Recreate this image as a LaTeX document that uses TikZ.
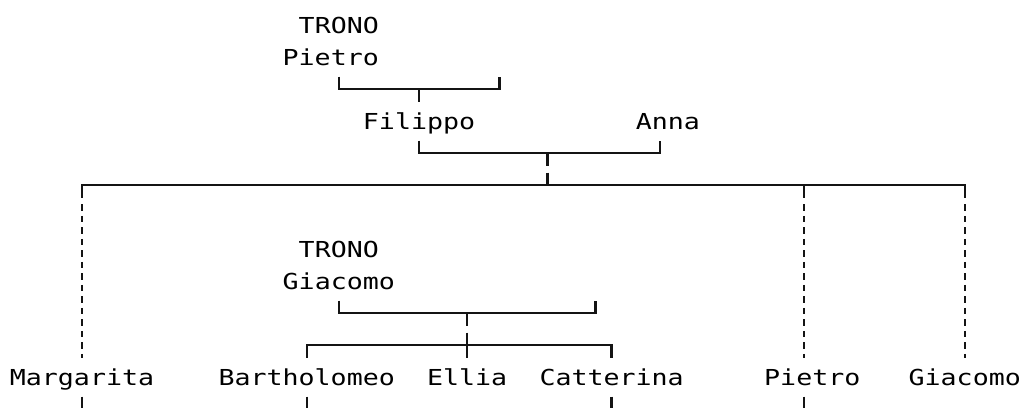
\documentclass[tikz,border=0pt]{standalone}
\usepackage{fontspec}
\newfontfamily\monofont[FakeStretch=1.21]{DejaVu Sans Mono}
\tikzset{
  person/.style={font=\monofont\fontsize{22}{26}\selectfont, inner sep=0pt, anchor=base, text=black},
  link/.style={line width=2.4pt, line cap=butt, line join=miter, draw=black!92},
  gapped/.style={link, dash pattern=on 12.5pt off 7pt on 12.5pt off 0pt},
  broken/.style={link, dash pattern=on 6.5pt off 5pt},
}
\begin{document}
\begin{tikzpicture}[x=16.05pt, y=-32pt]
\useasboundingbox (-1.109,-0.7875) rectangle (62.754,11.9625);
% names (x = column, y = row)
\node[person] (tronoA)      at (20,0.25)   {TRONO};
\node[person] (pietroA)     at (19.5,1.25) {Pietro};
\node[person] (filippo)     at (25,3.25)   {Filippo};
\node[person] (anna)        at (40.5,3.25) {Anna};
\node[person] (tronoB)      at (20,7.25)   {TRONO};
\node[person] (giacomoA)    at (20,8.25)   {Giacomo};
\node[person] (margarita)   at (4,11.25)   {Margarita};
\node[person] (bartholomeo) at (18,11.25)  {Bartholomeo};
\node[person] (ellia)       at (28,11.25)  {Ellia};
\node[person] (catterina)   at (37,11.25)  {Catterina};
\node[person] (pietroB)     at (49.5,11.25){Pietro};
\node[person] (giacomoB)    at (59,11.25)  {Giacomo};
% junction points
\coordinate (pA-in)   at (20,1.61);
\coordinate (pA-sp)   at (30,1.61);
\coordinate (pA-mid)  at (25,2);
\coordinate (f-in)    at (25,2.39);
\coordinate (f-out)   at (25,3.61);
\coordinate (a-out)   at (40,3.61);
\coordinate (fa-mid)  at (33,4);
\coordinate (bar-mid) at (33,5);
\coordinate (gA-in)   at (20,8.61);
\coordinate (gA-sp)   at (36,8.61);
\coordinate (gA-mid)  at (28,9);
\coordinate (kids)    at (28,10);
\coordinate (e-in)    at (28,10.39);
\coordinate (b-in)    at (18,10.39);
\coordinate (c-in)    at (37,10.39);
% first generation
\draw[link] (pA-in) |- (pA-sp |- pA-mid) -- (pA-sp);
\draw[link] (pA-mid) -- (f-in);
% Filippo + Anna
\draw[link] (f-out) |- (a-out |- fa-mid) -- (a-out);
\draw[gapped] (fa-mid) -- (bar-mid);
% children bar
\draw[link] (4,5.39) |- (59,5) -- (59,5.39);
\draw[link] (49,5) -- (49,5.39);
\coordinate (m-in) at (4,10.41);
\coordinate (p-in) at (49,10.41);
\coordinate (g-in) at (59,10.41);
\draw[broken] (4,5.6) -- (m-in);
\draw[broken] (49,5.6) -- (p-in);
\draw[broken] (59,5.6) -- (g-in);
% Giacomo TRONO family
\draw[link] (gA-in) |- (gA-sp |- gA-mid) -- (gA-sp);
\draw[gapped] (gA-mid) -- (kids);
\draw[link] (kids) -- (e-in);
\draw[link] (b-in) |- (c-in |- kids) -- (c-in);
% continuing lines below
\foreach \c in {4,18,37,49} \draw[link] (\c,11.61) -- (\c,11.9625);
\end{tikzpicture}
\end{document}
